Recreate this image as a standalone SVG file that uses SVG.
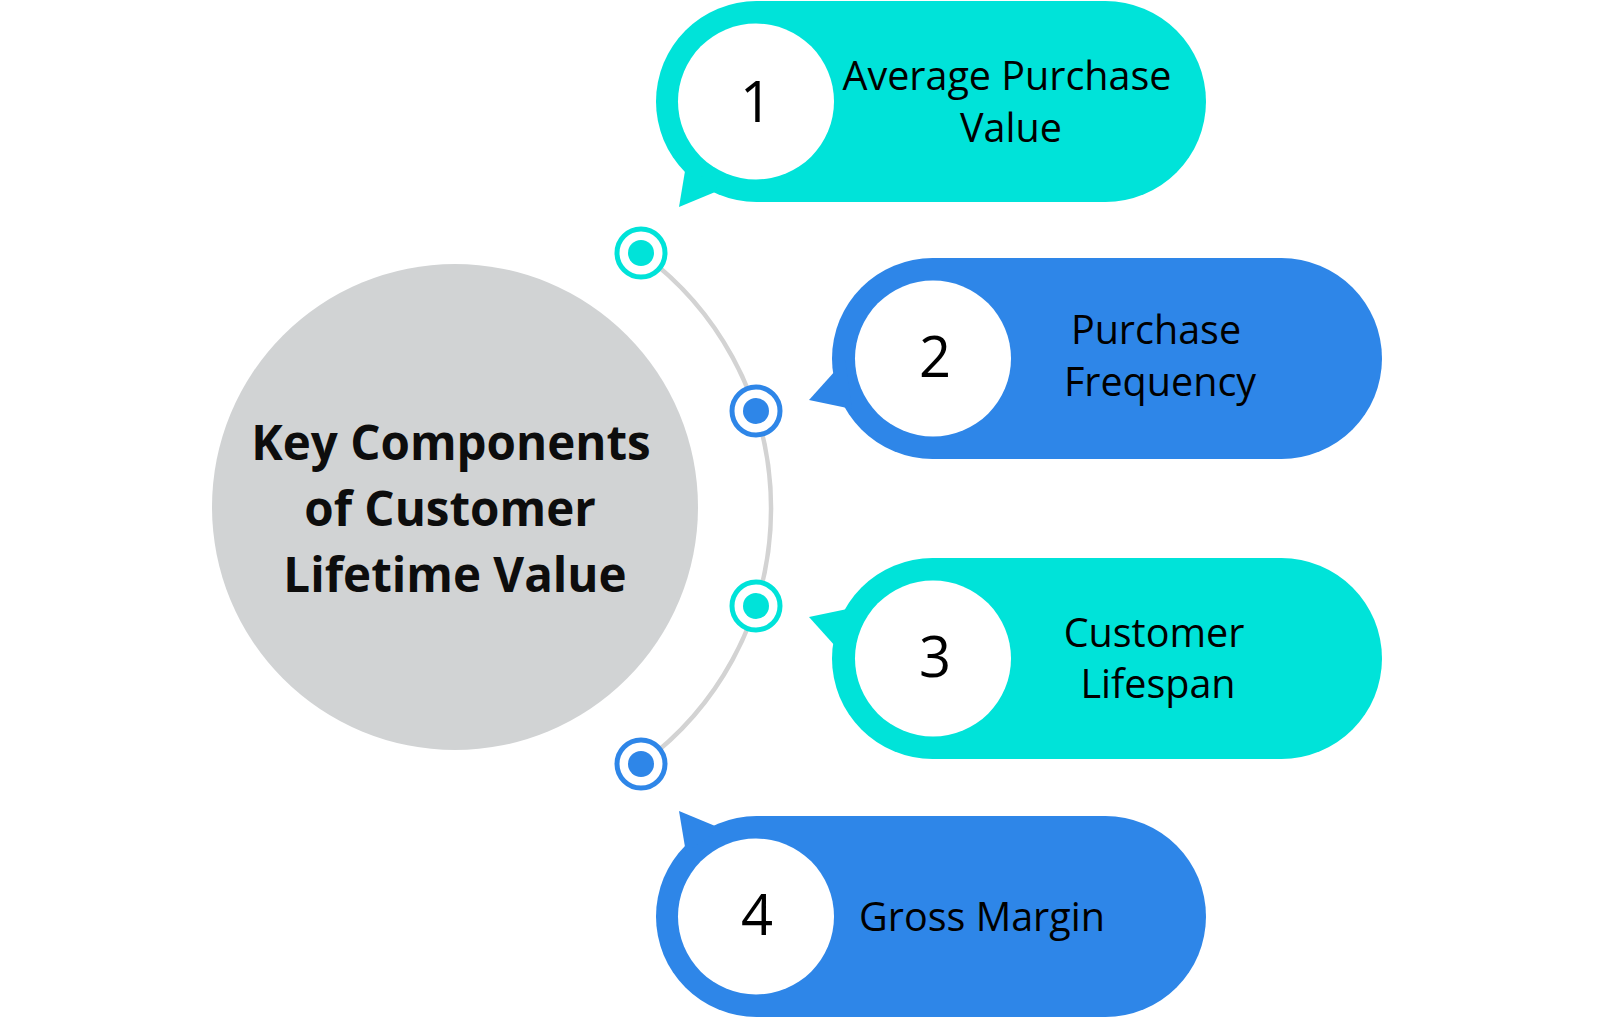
<svg xmlns="http://www.w3.org/2000/svg" width="1600" height="1018" viewBox="0 0 1600 1018">
<style>
.cyan{fill:#00E3D9}
.blue{fill:#2E86E8}
.ring-c{fill:#fff;stroke:#00E3D9;stroke-width:5}
.ring-b{fill:#fff;stroke:#2E86E8;stroke-width:5}
.num{font-family:"Open Sans",sans-serif;font-size:56px;fill:#000;text-anchor:middle}
.lbl{font-family:"Open Sans",sans-serif;font-size:39.5px;fill:#000;text-anchor:middle}
.title{font-family:"Open Sans",sans-serif;font-weight:700;font-size:47.5px;fill:#0d0d0d;text-anchor:middle}
</style>
<rect width="1600" height="1018" fill="#fff"/>
<g id="center">
<circle cx="455" cy="507" r="243" fill="#D1D3D4"/>
<text class="title" x="451" y="460">Key Components</text>
<text class="title" x="450" y="526">of Customer</text>
<text class="title" x="455" y="592">Lifetime Value</text>
</g>
<g id="connectors">
<path d="M 641 253 A 316 316 0 0 1 641 764" fill="none" stroke="#D3D3D3" stroke-width="4.5"/>
</g>
<g id="dot1"><circle class="ring-c" cx="641" cy="253" r="24"/><circle class="cyan" cx="641" cy="253" r="13"/></g>
<g id="dot2"><circle class="ring-b" cx="756" cy="411" r="24"/><circle class="blue" cx="756" cy="411" r="13"/></g>
<g id="dot3"><circle class="ring-c" cx="756" cy="606" r="24"/><circle class="cyan" cx="756" cy="606" r="13"/></g>
<g id="dot4"><circle class="ring-b" cx="641" cy="764" r="24"/><circle class="blue" cx="641" cy="764" r="13"/></g>
<g id="item1">
<rect class="cyan" x="656" y="1" width="550" height="201" rx="100.5"/>
<polygon class="cyan" points="686,165 679,207 720,190"/>
<circle cx="756" cy="101.5" r="78" fill="#fff"/>
<text class="num" x="756" y="122">1</text>
<text class="lbl" x="1007" y="90">Average Purchase</text>
<text class="lbl" x="1011" y="142">Value</text>
</g>
<g id="item2">
<rect class="blue" x="832" y="258" width="550" height="201" rx="100.5"/>
<polygon class="blue" points="845,360 809,400 852,409"/>
<circle cx="933" cy="358.5" r="78" fill="#fff"/>
<text class="num" x="935" y="377">2</text>
<text class="lbl" x="1156" y="344">Purchase</text>
<text class="lbl" x="1160" y="396">Frequency</text>
</g>
<g id="item3">
<rect class="cyan" x="832" y="558" width="550" height="201" rx="100.5"/>
<polygon class="cyan" points="845,657 809,617 852,608"/>
<circle cx="933" cy="658.5" r="78" fill="#fff"/>
<text class="num" x="935" y="677">3</text>
<text class="lbl" x="1154" y="647">Customer</text>
<text class="lbl" x="1158" y="698">Lifespan</text>
</g>
<g id="item4">
<rect class="blue" x="656" y="816" width="550" height="201" rx="100.5"/>
<polygon class="blue" points="686,853 679,811 720,828"/>
<circle cx="756" cy="916.5" r="78" fill="#fff"/>
<text class="num" x="757" y="935">4</text>
<text class="lbl" x="982" y="931">Gross Margin</text>
</g>
</svg>
